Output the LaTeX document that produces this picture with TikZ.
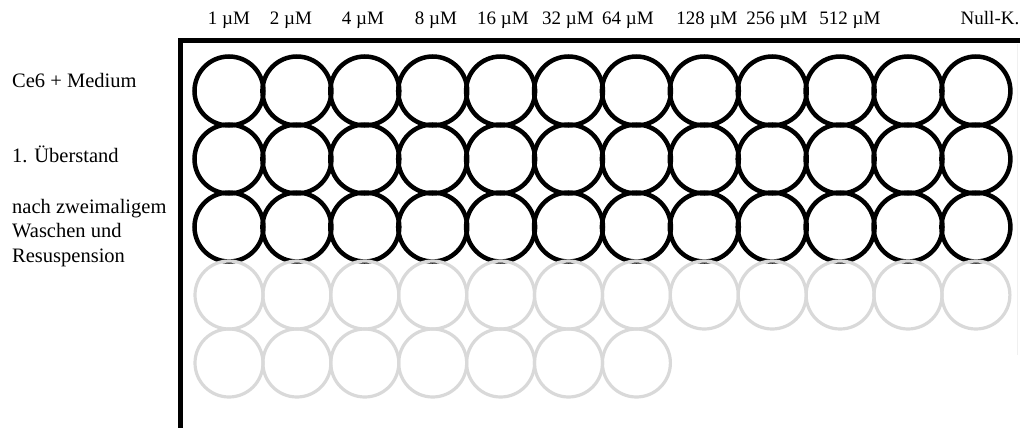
\documentclass[tikz,border=0pt]{standalone}
\usepackage{fontspec}
\setmainfont{Liberation Serif}
\definecolor{wellgray}{HTML}{D9D9D9}
\definecolor{faint}{HTML}{F0F0F0}
\tikzset{
  well/.style={circle, draw=black, line width=4.5pt, minimum size=69pt, inner sep=0pt},
  emptywell/.style={circle, draw=wellgray, line width=3.2pt, minimum size=68pt, inner sep=0pt},
  frameline/.style={line width=5pt, black},
  conc/.style={font=\fontsize{19}{22}\selectfont, anchor=base, inner sep=0pt},
  rowlabel/.style={font=\fontsize{20.5}{24.5}\selectfont, anchor=base west, align=left, inner sep=0pt}
}
\begin{document}
\begin{tikzpicture}[x=1pt, y=-1pt]
\useasboundingbox (0,0) rectangle (1020,428);
% frame
\coordinate (fbl) at (180,428);
\coordinate (ftl) at (180,41);
\coordinate (ftr) at (1020,41);
\draw[frameline] (fbl) -- (ftl) -- (ftr);
\coordinate (rt) at (1017,44);
\coordinate (rb) at (1017,355);
\draw[faint, line width=1pt] (rt) -- (rb);
% black wells
\foreach \r/\yy in {1/91, 2/159, 3/227} {
  \foreach \c in {1,...,12} {
    \node[well] (w-\r-\c) at ({229+(\c-1)*67.9}, \yy) {};
  }
}
% gray wells
\foreach \c in {1,...,12} {
  \node[emptywell] (w-4-\c) at ({229+(\c-1)*67.9}, 295) {};
}
\foreach \c in {1,...,7} {
  \node[emptywell] (w-5-\c) at ({229+(\c-1)*67.9}, 363) {};
}
% concentration labels
\node[conc] (c1) at (229,25) {1 µM};
\node[conc] (c2) at (291,25) {2 µM};
\node[conc] (c3) at (363,25) {4 µM};
\node[conc] (c4) at (436,25) {8 µM};
\node[conc] (c5) at (503,25) {16 µM};
\node[conc] (c6) at (568,25) {32 µM};
\node[conc] (c7) at (628,25) {64 µM};
\node[conc] (c8) at (707,25) {128 µM};
\node[conc] (c9) at (777,25) {256 µM};
\node[conc] (c10) at (850,25) {512 µM};
\node[conc] (c11) at (990,25) {Null-K.};
% row labels
\node[rowlabel] (l1) at (12,88) {Ce6 + Medium};
\node[rowlabel] (l2) at (12,162) {1. Überstand};
\node[rowlabel] (l3) at (12,262) {nach zweimaligem\\Waschen und\\Resuspension};
\end{tikzpicture}
\end{document}
